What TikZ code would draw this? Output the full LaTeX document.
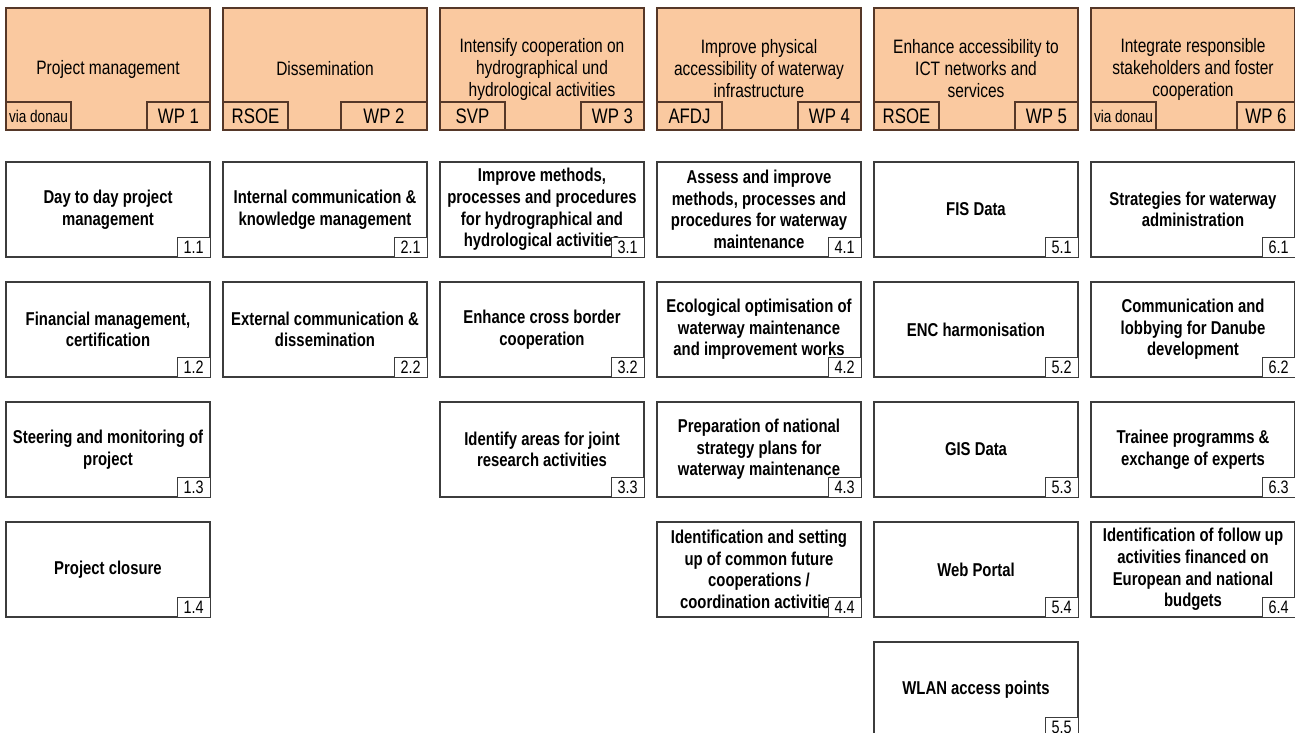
\documentclass[tikz,border=0pt]{standalone}
\usepackage{fontspec}
\setmainfont{Liberation Sans}[FakeStretch=0.8]
\usetikzlibrary{positioning}
\definecolor{wpfill}{RGB}{250,201,160}
\definecolor{wpline}{RGB}{85,55,40}
\definecolor{taskline}{RGB}{60,60,60}

\tikzset{
  wphead/.style={draw=wpline, fill=wpfill, line width=0.9pt, minimum width=102pt, minimum height=61pt,
    inner sep=0pt, align=center, font=\fontsize{9.7}{11}\selectfont},
  wplead/.style={draw=wpline, fill=wpfill, line width=0.9pt, minimum width=32.5pt, minimum height=14pt,
    inner sep=1pt, font=\fontsize{10.5}{12}\selectfont},
  wpnum/.style={wplead, minimum width=31.5pt},
  task/.style={draw=taskline, fill=white, line width=0.9pt, minimum width=102pt, minimum height=47.5pt,
    inner sep=0pt, align=center, font=\bfseries\fontsize{9.3}{10.8}\selectfont},
  tasknum/.style={draw=taskline, fill=white, line width=0.7pt, minimum width=16.5pt, minimum height=10pt,
    inner sep=0pt, font=\fontsize{9}{10}\selectfont}
}

\begin{document}
\begin{tikzpicture}[x=0.5pt, y=-0.5pt]
\useasboundingbox (0,0) rectangle (1295,733);

% work package headers
\node[wphead] (wp1) at (108,69) {Project management};
\node[wphead] (wp2) at (325,69) {Dissemination};
\node[wphead] (wp3) at (542,69) {Intensify cooperation on\\hydrographical und\\hydrological activities};
\node[wphead] (wp4) at (759,69) {Improve physical\\accessibility of waterway\\infrastructure};
\node[wphead] (wp5) at (976,69) {Enhance accessibility to\\ICT networks and\\services};
\node[wphead] (wp6) at (1193,69) {Integrate responsible\\stakeholders and foster\\cooperation};

% lead partner and number tabs
\node[wplead, anchor=south west, font=\fontsize{8.5}{10}\selectfont] (wp1lead) at (wp1.south west) {via donau};
\node[wpnum, anchor=south east] (wp1no) at (wp1.south east) {WP 1};
\node[wplead, anchor=south west] (wp2lead) at (wp2.south west) {RSOE};
\node[wpnum, anchor=south east, minimum width=43pt] (wp2no) at (wp2.south east) {WP 2};
\node[wplead, anchor=south west] (wp3lead) at (wp3.south west) {SVP};
\node[wpnum, anchor=south east] (wp3no) at (wp3.south east) {WP 3};
\node[wplead, anchor=south west] (wp4lead) at (wp4.south west) {AFDJ};
\node[wpnum, anchor=south east] (wp4no) at (wp4.south east) {WP 4};
\node[wplead, anchor=south west] (wp5lead) at (wp5.south west) {RSOE};
\node[wpnum, anchor=south east] (wp5no) at (wp5.south east) {WP 5};
\node[wplead, anchor=south west, font=\fontsize{8.5}{10}\selectfont] (wp6lead) at (wp6.south west) {via donau};
\node[wpnum, anchor=south east, minimum width=29pt] (wp6no) at (wp6.south east) {WP 6};

% WP 1
\node[task] (t11) at (108,209.5) {Day to day project\\management};
\node[task] (t12) at (108,329.5) {Financial management,\\certification};
\node[task] (t13) at (108,449.5) {Steering and monitoring of\\project};
\node[task] (t14) at (108,569.5) {Project closure};
\node[tasknum, anchor=south east] (t11no) at (t11.south east) {1.1};
\node[tasknum, anchor=south east] (t12no) at (t12.south east) {1.2};
\node[tasknum, anchor=south east] (t13no) at (t13.south east) {1.3};
\node[tasknum, anchor=south east] (t14no) at (t14.south east) {1.4};

% WP 2
\node[task] (t21) at (325,209.5) {Internal communication \&\\knowledge management};
\node[task] (t22) at (325,329.5) {External communication \&\\dissemination};
\node[tasknum, anchor=south east] (t21no) at (t21.south east) {2.1};
\node[tasknum, anchor=south east] (t22no) at (t22.south east) {2.2};

% WP 3
\node[task] (t31) at (542,209.5) {Improve methods,\\processes and procedures\\for hydrographical and\\hydrological activities};
\node[task] (t32) at (542,329.5) {Enhance cross border\\cooperation};
\node[task] (t33) at (542,449.5) {Identify areas for joint\\research activities};
\node[tasknum, anchor=south east] (t31no) at (t31.south east) {3.1};
\node[tasknum, anchor=south east] (t32no) at (t32.south east) {3.2};
\node[tasknum, anchor=south east] (t33no) at (t33.south east) {3.3};

% WP 4
\node[task] (t41) at (759,209.5) {Assess and improve\\methods, processes and\\procedures for waterway\\maintenance};
\node[task] (t42) at (759,329.5) {Ecological optimisation of\\waterway maintenance\\and improvement works};
\node[task] (t43) at (759,449.5) {Preparation of national\\strategy plans for\\waterway maintenance};
\node[task] (t44) at (759,569.5) {Identification and setting\\up of common future\\cooperations /\\coordination activities};
\node[tasknum, anchor=south east] (t41no) at (t41.south east) {4.1};
\node[tasknum, anchor=south east] (t42no) at (t42.south east) {4.2};
\node[tasknum, anchor=south east] (t43no) at (t43.south east) {4.3};
\node[tasknum, anchor=south east] (t44no) at (t44.south east) {4.4};

% WP 5
\node[task] (t51) at (976,209.5) {FIS Data};
\node[task] (t52) at (976,329.5) {ENC harmonisation};
\node[task] (t53) at (976,449.5) {GIS Data};
\node[task] (t54) at (976,569.5) {Web Portal};
\node[task] (t55) at (976,689.5) {WLAN access points};
\node[tasknum, anchor=south east] (t51no) at (t51.south east) {5.1};
\node[tasknum, anchor=south east] (t52no) at (t52.south east) {5.2};
\node[tasknum, anchor=south east] (t53no) at (t53.south east) {5.3};
\node[tasknum, anchor=south east] (t54no) at (t54.south east) {5.4};
\node[tasknum, anchor=south east] (t55no) at (t55.south east) {5.5};

% WP 6
\node[task] (t61) at (1193,209.5) {Strategies for waterway\\administration};
\node[task] (t62) at (1193,329.5) {Communication and\\lobbying for Danube\\development};
\node[task] (t63) at (1193,449.5) {Trainee programms \&\\exchange of experts};
\node[task] (t64) at (1193,569.5) {Identification of follow up\\activities financed on\\European and national\\budgets};
\node[tasknum, anchor=south east] (t61no) at (t61.south east) {6.1};
\node[tasknum, anchor=south east] (t62no) at (t62.south east) {6.2};
\node[tasknum, anchor=south east] (t63no) at (t63.south east) {6.3};
\node[tasknum, anchor=south east] (t64no) at (t64.south east) {6.4};
\end{tikzpicture}
\end{document}
